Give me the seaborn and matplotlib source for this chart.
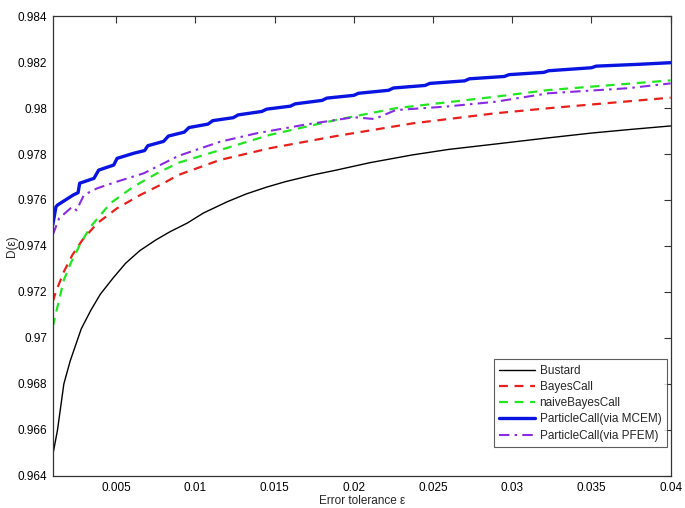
import numpy as np
import pandas as pd
import matplotlib
matplotlib.use("Agg")
import matplotlib.pyplot as plt
import seaborn as sns

# ── data ─────────────────────────────────────────────────────────────────────
bustard_x = [0.001, 0.0013, 0.0017, 0.0021, 0.0028, 0.0034, 0.0040, 0.0048, 0.0056,
             0.0065, 0.0075, 0.0084, 0.0095, 0.0105, 0.0120, 0.0132, 0.0145, 0.0157,
             0.0175, 0.0189, 0.0210, 0.0237, 0.0260, 0.0289, 0.0320, 0.0350, 0.0375, 0.0400]
bustard_y = [0.9649, 0.9660, 0.9680, 0.9690, 0.9704, 0.9712, 0.9719, 0.9726, 0.97325,
             0.9738, 0.97426, 0.97462, 0.9750, 0.97543, 0.97592, 0.97626, 0.97656, 0.9768,
             0.9771, 0.9773, 0.97762, 0.97796, 0.9782, 0.97843, 0.97868, 0.97891, 0.97907, 0.97922]

bayes_x = [0.001, 0.0012, 0.0017, 0.00224, 0.00287, 0.00381, 0.00506, 0.00653,
           0.00778, 0.00894, 0.01155, 0.0147, 0.01888, 0.0237, 0.02893, 0.03228, 0.0400]
bayes_y = [0.97158, 0.97201, 0.97288, 0.97361, 0.97426, 0.97499, 0.97564, 0.97622,
           0.97665, 0.97709, 0.97774, 0.97825, 0.97878, 0.97933, 0.97977, 0.97999, 0.98045]

naive_x = [0.001, 0.0013, 0.0017, 0.00213, 0.00276, 0.00339, 0.00464, 0.0061,
           0.00758, 0.00894, 0.01155, 0.0147, 0.01888, 0.02265, 0.02893, 0.03228, 0.0400]
naive_y = [0.97049, 0.97136, 0.97252, 0.97325, 0.97412, 0.97484, 0.97586, 0.97658,
           0.97716, 0.97762, 0.97817, 0.97883, 0.97948, 0.97999, 0.98049, 0.98078, 0.9812]

mcem_x = [0.001, 0.0012, 0.0013, 0.0023, 0.0026, 0.0027, 0.0036, 0.0039, 0.00485,
          0.00506, 0.0061, 0.0068, 0.0070, 0.0080, 0.0083, 0.0093, 0.0096, 0.0108,
          0.0111, 0.0124, 0.0127, 0.0142, 0.0145, 0.0160, 0.0163, 0.0180, 0.0183,
          0.0200, 0.0203, 0.0222, 0.0225, 0.0245, 0.0248, 0.0270, 0.0273, 0.0295,
          0.0298, 0.0320, 0.0323, 0.0350, 0.0353, 0.0380, 0.0400]
mcem_y = [0.97491, 0.97570, 0.97578, 0.97622, 0.97632, 0.97673, 0.97694, 0.97730, 0.97752,
          0.97781, 0.97803, 0.97815, 0.97836, 0.97855, 0.97878, 0.97895, 0.97915, 0.97930,
          0.97945, 0.97958, 0.97970, 0.97985, 0.97995, 0.98008, 0.98018, 0.98033, 0.98043,
          0.98055, 0.98064, 0.98077, 0.98087, 0.98098, 0.98107, 0.98118, 0.98127, 0.98137,
          0.98145, 0.98155, 0.98162, 0.98175, 0.98182, 0.98190, 0.98197]

pfem_x = [0.001, 0.0014, 0.00224, 0.0025, 0.00297, 0.00381, 0.00506, 0.00674,
          0.00778, 0.00894, 0.01155, 0.01386, 0.01679, 0.01888, 0.02, 0.0213,
          0.02265, 0.0258, 0.02893, 0.03228, 0.0373, 0.0400]
pfem_y = [0.97448, 0.9752, 0.97571, 0.97555, 0.97622, 0.97651, 0.9768, 0.97716,
          0.97752, 0.97792, 0.97853, 0.9789, 0.97926, 0.97948, 0.97960, 0.97952,
          0.97991, 0.98006, 0.98027, 0.98064, 0.98086, 0.98107]

series = [
    ("Bustard", bustard_x, bustard_y, "black", "-", 1.0),
    ("BayesCall", bayes_x, bayes_y, "#e8201c", (0, (4, 3)), 1.6),
    ("naiveBayesCall", naive_x, naive_y, "#22e622", (0, (4, 3)), 1.6),
    ("ParticleCall(via MCEM)", mcem_x, mcem_y, "#0a14e0", "-", 2.4),
    ("ParticleCall(via PFEM)", pfem_x, pfem_y, "#8a2be2", (0, (5, 2.5, 1.2, 2.5)), 1.5),
]

yticks = [0.964, 0.966, 0.968, 0.97, 0.972, 0.974, 0.976, 0.978, 0.98, 0.982, 0.984]
xticks = [0.005, 0.01, 0.015, 0.02, 0.025, 0.03, 0.035, 0.04]

# ── plot ─────────────────────────────────────────────────────────────────────
sns.set_style("white")
plt.rcParams["font.family"] = ["Liberation Sans", "DejaVu Sans"]
FS = 8.5

fig = plt.figure(figsize=(6.85, 5.08), dpi=100)
ax = fig.add_axes([0.077, 0.063, 0.902, 0.9055])

for name, xs, ys, col, ls, lw in series:
    df = pd.DataFrame({"x": xs, "y": ys})
    sns.lineplot(data=df, x="x", y="y", ax=ax, color=col, linestyle=ls,
                 linewidth=lw, label=name, estimator=None)

ax.set_xlim(0.001, 0.04)
ax.set_ylim(0.964, 0.984)
ax.set_xticks(xticks)
ax.set_xticklabels([f"{t:g}" for t in xticks])
ax.set_yticks(yticks)
ax.set_yticklabels([f"{t:g}" for t in yticks])
ax.tick_params(direction="in", top=True, right=True, length=5, width=0.8,
               labelsize=FS, colors="#333333", labelcolor="black", pad=4)
for sp in ax.spines.values():
    sp.set_color("#333333")
    sp.set_linewidth(0.9)
ax.set_xlabel("Error tolerance ε", fontsize=FS, labelpad=1)
ax.set_ylabel("D(ε)", fontsize=FS)
ax.yaxis.set_label_coords(-0.056, 0.5)

leg = ax.legend(loc="lower right", bbox_to_anchor=(0.9935, 0.063), borderaxespad=0,
                fontsize=FS, frameon=True, fancybox=False, edgecolor="#333333",
                handlelength=3.0, handletextpad=0.4, labelspacing=0.36, borderpad=0.45)
leg.get_frame().set_linewidth(0.8)

fig.savefig("out.png", dpi=100)
